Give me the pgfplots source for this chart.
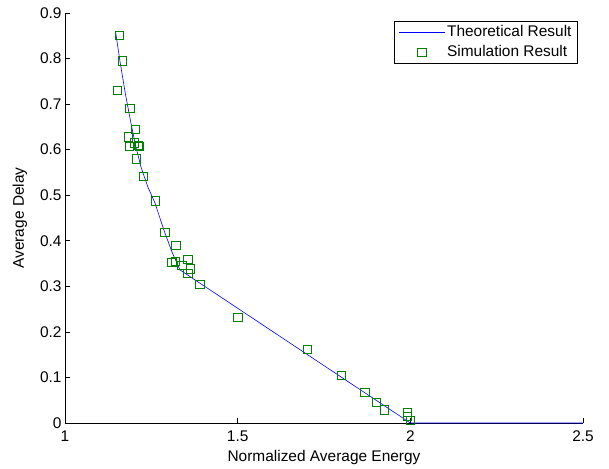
\documentclass[border=0pt]{standalone}
\usepackage{fontspec}
\setmainfont{Liberation Sans}
\usepackage{pgfplots}
\pgfplotsset{compat=1.18}

\definecolor{simgreen}{rgb}{0,0.5,0}
\definecolor{theoblue}{rgb}{0,0,1}

% legend pictures, MATLAB style
\pgfplotsset{
    lineleg/.style={legend image code/.code={\draw[##1] (0bp,0bp) -- (46bp,0bp);}},
    markleg/.style={legend image code/.code={\draw[##1] plot coordinates {(23bp,0bp)};}},
}

\begin{document}
\begin{tikzpicture}
\begin{axis}[
    name=ax,
    scale only axis,
    width=518bp,
    height=410bp,
    xmin=1, xmax=2.5,
    ymin=0, ymax=0.9,
    xtick={1,1.5,2,2.5},
    ytick={0,0.1,0.2,0.3,0.4,0.5,0.6,0.7,0.8,0.9},
    axis x line*=bottom,
    axis y line*=left,
    axis line style={line width=0.6bp},
    tick align=inside,
    major tick length=5bp,
    tick style={line width=0.6bp, black},
    font=\fontsize{15.5}{18}\selectfont,
    /pgf/number format/assume math mode=true,
    xticklabel style={anchor=base, yshift=-19bp},
    yticklabel style={anchor=east},
    xlabel={Normalized Average Energy},
    ylabel={Average Delay},
    xlabel style={at={(rel axis cs:0.5,0)}, anchor=base, yshift=-39bp},
    ylabel style={at={(axis description cs:-0.087,0.5)}, anchor=center},
    clip=false,
    legend cell align=left,
    legend style={
        at={(rel axis cs:0.990,0.980)},
        anchor=north east,
        draw=black,
        line width=0.6bp,
        inner xsep=4bp,
        inner ysep=1bp,
        row sep=0bp,
        nodes={inner sep=2bp, text height=12bp, text depth=4bp},
    },
]

% Theoretical Result
\addplot[
    theoblue,
    line width=0.6bp,
    lineleg,
] coordinates {
    (1.147,0.856)
    (1.160,0.790)
    (1.175,0.722)
    (1.190,0.662)
    (1.205,0.607)
    (1.220,0.562)
    (1.240,0.518)
    (1.260,0.484)
    (1.287,0.422)
    (1.310,0.375)
    (1.333,0.336)
    (2.000,0.000)
    (2.500,0.000)
};
\addlegendentry{Theoretical Result}

% Simulation Result
\addplot[
    only marks,
    simgreen,
    mark=square,
    mark size=4.2bp,
    mark options={line width=0.7bp},
    markleg,
] coordinates {
    (1.157,0.851)
    (1.166,0.795)
    (1.152,0.730)
    (1.188,0.691)
    (1.204,0.644)
    (1.183,0.628)
    (1.201,0.615)
    (1.186,0.607)
    (1.213,0.609)
    (1.216,0.607)
    (1.206,0.580)
    (1.227,0.542)
    (1.262,0.488)
    (1.289,0.418)
    (1.321,0.390)
    (1.309,0.352)
    (1.319,0.355)
    (1.356,0.359)
    (1.338,0.346)
    (1.363,0.338)
    (1.356,0.328)
    (1.390,0.304)
    (1.501,0.232)
    (1.702,0.162)
    (1.800,0.104)
    (1.868,0.067)
    (1.901,0.045)
    (1.925,0.029)
    (1.992,0.023)
    (1.992,0.014)
    (2.000,0.006)
};
\addlegendentry{Simulation Result}

\end{axis}
\path ([shift={(-65bp,-45bp)}]ax.south west) rectangle ([shift={(26bp,13bp)}]ax.north east);
\end{tikzpicture}
\end{document}
